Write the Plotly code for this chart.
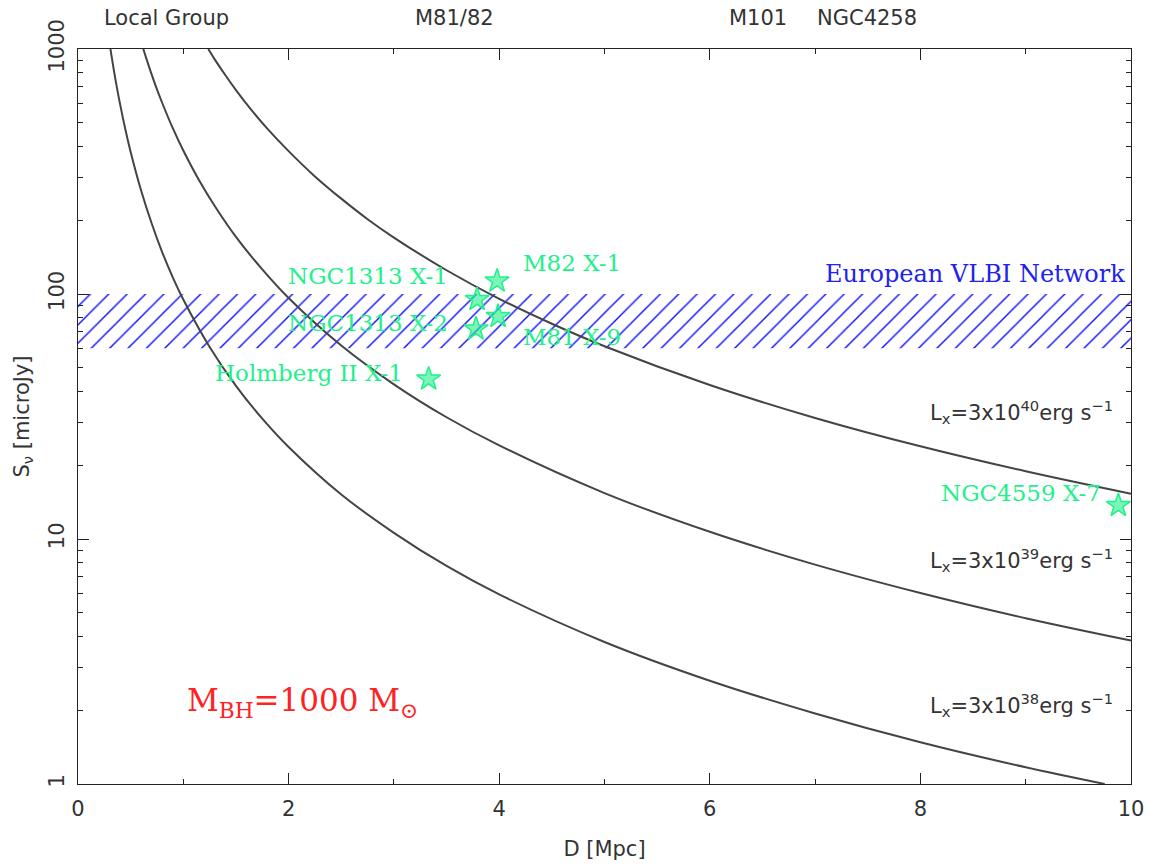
import math
import plotly.graph_objects as go

# ---- data ----
# L_x = 3e40 erg/s curve
d_40 = [1.237, 1.3, 1.4, 1.5, 1.65, 1.8, 2.0, 2.25, 2.5, 2.75, 3.0, 3.5, 4.0, 4.5, 5.0, 6.0, 7.0, 8.0, 9.0, 10.0]
s_40 = [1000, 905, 781, 680, 562, 472, 383, 302, 245, 202, 170, 125, 95.6, 75.6, 61.2, 42.5, 31.2, 23.9, 18.9, 15.3]
# L_x = 3e39 erg/s curve
d_39 = [0.6205, 0.65, 0.7, 0.75, 0.8, 0.9, 1.0, 1.15, 1.3, 1.5, 1.75, 2.0, 2.5, 3.0, 3.5, 4.0, 5.0, 6.0, 7.0, 8.0, 9.0, 10.0]
s_39 = [1000, 911, 786, 684, 602, 475, 385, 291, 228, 171, 126, 96.3, 61.6, 42.8, 31.4, 24.1, 15.4, 10.7, 7.86, 6.02, 4.75, 3.85]
# L_x = 3e38 erg/s curve
d_38 = [0.308, 0.32, 0.34, 0.37, 0.4, 0.45, 0.5, 0.6, 0.7, 0.8, 0.9, 1.0, 1.25, 1.5, 1.75, 2.0, 2.5, 3.0, 3.5, 4.0, 5.0, 6.0, 7.0, 8.0, 9.0, 9.75]
s_38 = [1000, 928, 822, 694, 594, 469, 380, 264, 194, 148, 117, 95, 60.8, 42.2, 31.0, 23.75, 15.2, 10.6, 7.76, 5.94, 3.8, 2.64, 1.94, 1.48, 1.17, 1.0]

curve_labels = ["40", "39", "38"]

src_names = ["M82 X-1", "NGC1313 X-1", "M81 X-9", "NGC1313 X-2", "Holmberg II X-1", "NGC4559 X-7"]
src_dist = [3.98, 3.79, 3.99, 3.78, 3.33, 9.88]
src_flux = [113, 95, 81, 72, 45, 13.7]

evn_low = 60
evn_high = 100
evn_dist = [0, 10]

group_names = ["Local Group", "M81/82", "M101", "NGC4258"]
group_dist = [0.84, 3.58, 6.46, 7.49]

x_ticks = [0, 2, 4, 6, 8, 10]
y_ticks = [1, 10, 100, 1000]
y_ticktext = ["1", "10", "100", "1000"]

GREEN = "#22f08a"
GRAY = "#444444"
AXC = "#222222"
TXT = "#333333"
SANS = "DejaVu Sans"
SERIF = "DejaVu Serif"

fig = go.Figure()

# EVN hatched band
fig.add_trace(go.Scatter(
    x=[evn_dist[0], evn_dist[1], evn_dist[1], evn_dist[0], evn_dist[0]],
    y=[evn_low, evn_low, evn_high, evn_high, evn_low],
    mode="lines", line=dict(width=0, color="rgba(0,0,0,0)"),
    fill="toself", fillcolor="rgba(0,0,0,0)",
    fillpattern=dict(shape="/", fgcolor="#1010ff", bgcolor="rgba(0,0,0,0)",
                     size=13, solidity=0.11, fgopacity=1),
    hoverinfo="skip", showlegend=False))

for dd, ss in [(d_40, s_40), (d_39, s_39), (d_38, s_38)]:
    fig.add_trace(go.Scatter(x=dd, y=ss, mode="lines",
                             line=dict(color=GRAY, width=2, shape="spline", smoothing=1.0),
                             showlegend=False, hoverinfo="skip"))

fig.add_trace(go.Scatter(
    x=src_dist, y=src_flux, mode="markers",
    marker=dict(symbol="star", size=18, color="rgba(34,240,138,0.6)",
                line=dict(color=GREEN, width=1.5)),
    showlegend=False, hoverinfo="skip"))

ann = []
label_pos = {
    "M82 X-1": (4.21, 2.127, "left"),
    "NGC1313 X-1": (3.53, 2.073, "right"),
    "M81 X-9": (4.21, 1.824, "left"),
    "NGC1313 X-2": (3.53, 1.882, "right"),
    "Holmberg II X-1": (3.11, 1.678, "right"),
    "NGC4559 X-7": (9.73, 1.188, "right"),
}
for name in src_names:
    lx, ly, xa = label_pos[name]
    ann.append(dict(x=lx, y=ly, xref="x", yref="y", text=name, showarrow=False,
                    xanchor=xa, yanchor="middle",
                    font=dict(family=SERIF, size=23, color=GREEN)))

ann.append(dict(x=9.96, y=2.082, xref="x", yref="y", text="European VLBI Network",
                showarrow=False, xanchor="right", yanchor="middle",
                font=dict(family=SERIF, size=24, color="#2222ee")))

lum_y = [1.518, 0.914, 0.322]
for lab, ly in zip(curve_labels, lum_y):
    ann.append(dict(x=9.85, y=ly, xref="x", yref="y",
                    text="L<sub>x</sub>=3x10<sup>" + lab + "</sup>erg s<sup>\u22121</sup>",
                    showarrow=False, xanchor="right", yanchor="middle",
                    font=dict(family=SANS, size=21, color=TXT)))

ann.append(dict(x=2.13, y=0.331, xref="x", yref="y",
                text="M<sub>BH</sub>=1000 M<sub>\u2299</sub>", showarrow=False,
                xanchor="center", yanchor="middle",
                font=dict(family=SERIF, size=31, color="#ff2222")))

for gname, gd in zip(group_names, group_dist):
    ann.append(dict(x=gd, y=1.042, xref="x", yref="paper", text=gname, showarrow=False,
                    xanchor="center", yanchor="middle",
                    font=dict(family=SANS, size=21, color=TXT)))

fig.update_layout(
    width=1150, height=868,
    margin=dict(l=78, r=19, t=49, b=84, autoexpand=False),
    paper_bgcolor="white", plot_bgcolor="white",
    annotations=ann,
    showlegend=False,
)

fig.update_xaxes(
    range=[0, 10], showgrid=False, zeroline=False, automargin=False,
    showline=True, linecolor=AXC, linewidth=1.3, mirror="ticks",
    ticks="inside", ticklen=11, tickwidth=1.2, tickcolor=AXC,
    tickvals=x_ticks, ticktext=[str(v) for v in x_ticks],
    minor=dict(ticks="inside", ticklen=5, tickwidth=1.2, tickcolor=AXC, dtick=1, showgrid=False),
    tickfont=dict(family=SANS, size=21, color=TXT),
    ticklabelstandoff=6,
    title=dict(text="D [Mpc]", font=dict(family=SANS, size=21, color=TXT), standoff=20),
)
fig.update_yaxes(
    type="log", range=[0, 3], showgrid=False, zeroline=False, automargin=False,
    showline=True, linecolor=AXC, linewidth=1.3, mirror="ticks",
    ticks="inside", ticklen=11, tickwidth=1.2, tickcolor=AXC,
    tickvals=y_ticks, ticktext=y_ticktext, tickangle=-90,
    minor=dict(ticks="inside", ticklen=5, tickwidth=1.2, tickcolor=AXC, dtick="D1", showgrid=False),
    tickfont=dict(family=SANS, size=21, color=TXT),
    ticklabelstandoff=4,
    title=dict(text="S<sub>\u03bd</sub> [microJy]", font=dict(family=SANS, size=21, color=TXT), standoff=10),
)

fig.write_html("out.html", config={"displayModeBar": False},
               post_script="document.body.style.margin='0';document.body.style.padding='0';")
